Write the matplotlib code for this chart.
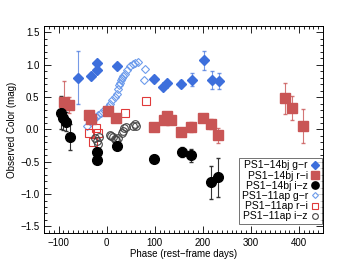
import matplotlib
matplotlib.use("Agg")
import matplotlib.pyplot as plt
from matplotlib.ticker import MultipleLocator

plt.rcParams['font.family'] = ['Liberation Sans', 'DejaVu Sans']

# PS1-14bj g-r
bj_gr_x = [-60, -33, -19, -19, 21, 98, 117, 125, 154, 177, 202, 219, 233]
bj_gr_y = [0.80, 0.83, 1.03, 0.92, 0.98, 0.78, 0.65, 0.72, 0.71, 0.77, 1.07, 0.77, 0.75]
bj_gr_e = [0.41, 0.04, 0.03, 0.03, 0.03, 0.04, 0.03, 0.03, 0.05, 0.10, 0.15, 0.14, 0.13]

# PS1-14bj r-i
bj_ri_x = [-89, -79, -37, -33, 2, 20, 98, 119, 126, 134, 155, 176, 201, 218, 232, 370, 386, 409]
bj_ri_y = [0.42, 0.38, 0.23, 0.16, 0.29, 0.17, 0.04, 0.15, 0.21, 0.14, -0.04, 0.04, 0.17, 0.08, -0.09, 0.48, 0.33, 0.05]
bj_ri_e = [0.33, 0.12, 0.03, 0.03, 0.03, 0.03, 0.03, 0.03, 0.03, 0.03, 0.03, 0.08, 0.05, 0.08, 0.12, 0.24, 0.18, 0.26]

# PS1-14bj i-z
bj_iz_x = [-95, -91, -85, -77, -21, -19, 21, 98, 156, 176, 218, 232]
bj_iz_y = [0.26, 0.17, 0.12, -0.12, -0.35, -0.48, -0.26, -0.45, -0.35, -0.40, -0.82, -0.74]
bj_iz_e = [0.25, 0.18, 0.15, 0.20, 0.03, 0.03, 0.03, 0.05, 0.08, 0.10, 0.25, 0.30]

# PS1-11ap g-r
ap_gr_x = [-40, -33, -27, -22, -18, -12, -5, 2, 8, 12, 17, 21, 24, 26, 28, 30, 32,
           35, 38, 43, 48, 55, 60, 65, 80, 78]
ap_gr_y = [0.05, 0.12, 0.17, 0.20, 0.23, 0.26, 0.30, 0.35, 0.40, 0.45, 0.50, 0.55,
           0.62, 0.68, 0.72, 0.76, 0.80, 0.83, 0.86, 0.92, 0.98, 1.01, 1.03, 1.04, 0.94, 0.77]

# PS1-11ap r-i
ap_ri_x = [-37, -29, -22, -17, 39, 81]
ap_ri_y = [-0.06, -0.20, 0.02, -0.05, 0.26, 0.44]

# PS1-11ap i-z
ap_iz_x = [-24, -21, -18, -15, 6, 9, 13, 17, 20, 24, 31, 34, 37, 40, 55, 58, 62]
ap_iz_y = [-0.14, -0.18, -0.22, -0.12, -0.08, -0.10, -0.12, -0.15, -0.17, -0.14,
           -0.06, -0.02, 0.02, 0.04, 0.06, 0.09, 0.05]

blue = '#3d6fdc'
red = '#c95555'
lblue = '#6d9cec'
ored = '#e03a3a'

fig = plt.figure(figsize=(3.5, 2.68), dpi=100)
ax = fig.add_axes([0.126, 0.131, 0.797, 0.772])

ax.errorbar(bj_gr_x, bj_gr_y, yerr=bj_gr_e, fmt='none', ecolor=blue, elinewidth=0.8,
            capsize=1.5, alpha=0.7)
ax.errorbar(bj_ri_x, bj_ri_y, yerr=bj_ri_e, fmt='none', ecolor=red, elinewidth=0.8,
            capsize=1.5, alpha=0.8)
ax.errorbar(bj_iz_x, bj_iz_y, yerr=bj_iz_e, fmt='none', ecolor='#333333', elinewidth=0.8,
            capsize=1.5)

ax.plot(ap_gr_x, ap_gr_y, 'D', ms=4, mfc='none', mec=lblue, mew=0.8, label='PS1\u221211ap g\u2212r')
ax.plot(ap_ri_x, ap_ri_y, 's', ms=6, mfc='none', mec=ored, mew=0.8, label='PS1\u221211ap r\u2212i')
ax.plot(ap_iz_x, ap_iz_y, 'o', ms=5.5, mfc='none', mec='#444444', mew=0.8, label='PS1\u221211ap i\u2212z')

ax.plot(bj_gr_x, bj_gr_y, 'D', ms=5, color=blue, mec=blue, label='PS1\u221214bj g\u2212r')
ax.plot(bj_ri_x, bj_ri_y, 's', ms=7, color=red, mec=red, label='PS1\u221214bj r\u2212i')
ax.plot(bj_iz_x, bj_iz_y, 'o', ms=7, color='black', label='PS1\u221214bj i\u2212z')

ax.set_xlim(-130, 450)
ax.set_ylim(-1.6, 1.6)
ax.xaxis.set_major_locator(MultipleLocator(100))
ax.xaxis.set_minor_locator(MultipleLocator(10))
ax.yaxis.set_major_locator(MultipleLocator(0.5))
ax.yaxis.set_minor_locator(MultipleLocator(0.1))
ax.tick_params(which='both', direction='in', top=True, right=True, labelsize=7, width=0.6)
ax.tick_params(which='major', length=5)
ax.tick_params(which='minor', length=2.5)
ax.set_yticklabels([f'{v:.1f}'.replace('-', '\u2212') for v in ax.get_yticks()])
ax.set_xticklabels([f'{v:.0f}'.replace('-', '\u2212') for v in ax.get_xticks()])
for s in ax.spines.values():
    s.set_linewidth(0.7)

ax.set_xlabel('Phase (rest\u2212frame days)', fontsize=7, labelpad=1)
ax.set_ylabel('Observed Color (mag)', fontsize=7, labelpad=2)

h, l = ax.get_legend_handles_labels()
order = [3, 4, 5, 0, 1, 2]
leg = ax.legend([h[i] for i in order], [l[i] for i in order], loc='lower right',
                bbox_to_anchor=(322 / 350, 1 - 224 / 268), bbox_transform=fig.transFigure,
                markerfirst=False, fontsize=7.5, frameon=True, fancybox=False,
                edgecolor='#333333', handlelength=0.8, handletextpad=0.3,
                labelspacing=0.02, borderpad=0.25, borderaxespad=0, markerscale=0.75)
leg.get_frame().set_linewidth(0.6)
for t in leg.get_texts():
    t.set_ha('right')

fig.savefig('out.png', dpi=100)
